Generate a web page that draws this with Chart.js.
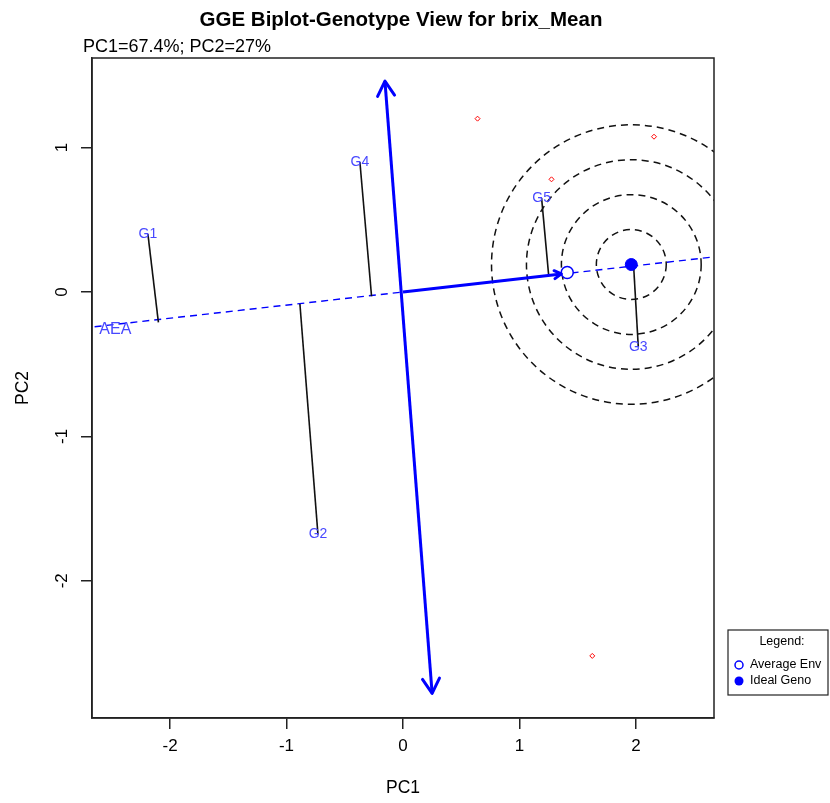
<!DOCTYPE html>
<html lang="en">
<head>
<meta charset="UTF-8">
<title>GGE Biplot-Genotype View for brix_Mean</title>
<script src="https://cdn.jsdelivr.net/npm/chart.js"></script>
<style>
  body { margin: 0; background: #fff; }
  #biplot { display: block; }
</style>
</head>
<body>
<canvas id="biplot" width="830" height="803"></canvas>

<script>
    // valores
    const xTicks = [-2, -1, 0, 1, 2];
    const yTicks = [-2, -1, 0, 1];

    // genotipos
    const genoNames = ['G1', 'G2', 'G3', 'G4', 'G5'];
    const genoX = [-2.19, -0.73, 2.02, -0.37, 1.19];
    const genoY = [0.40, -1.68, -0.38, 0.90, 0.65];
    // pe da perpendicular de cada genotipo sobre o eixo AEA
    const projX = [-2.10, -0.885, 1.98, -0.27, 1.25];
    const projY = [-0.21, -0.083, 0.18, -0.03, 0.12];

    // ambientes (pontos vermelhos)
    const envX = [0.64, 2.155, 1.275, 1.625];
    const envY = [1.20, 1.075, 0.78, -2.52];

    // eixo AEA (tracejado) e ordenada (seta dupla)
    const aeaLineX = [-2.75, 2.75];
    const aeaLineY = [-0.25, 0.25];
    const aeaArrowX = [0, 1.36];
    const aeaArrowY = [0, 0.125];
    const atcX = [-0.155, 0.25];
    const atcY = [1.46, -2.78];
    const aeaLabel = [-2.47, -0.263];

    const avgEnv = [1.41, 0.135];
    const idealGeno = [1.96, 0.19];
    const circleRadii = [0.3, 0.6, 0.9, 1.2];

    const FONT = "'Liberation Sans', Arial, sans-serif";
    const BLUE = '#0000ff';
    const LABEL_BLUE = '#4848ff';

    function pts(xs, ys) {
        return xs.map((x, i) => ({ x: x, y: ys[i] }));
    }

    function arrowHead(ctx, from, to, len, ang) {
        const a = Math.atan2(to.y - from.y, to.x - from.x);
        ctx.beginPath();
        ctx.moveTo(to.x - len * Math.cos(a - ang), to.y - len * Math.sin(a - ang));
        ctx.lineTo(to.x, to.y);
        ctx.lineTo(to.x - len * Math.cos(a + ang), to.y - len * Math.sin(a + ang));
        ctx.stroke();
    }

    function metaOf(chart, label) {
        const idx = chart.data.datasets.findIndex(d => d.label === label);
        return chart.getDatasetMeta(idx);
    }

    const datasets = [
        {
            label: 'Ideal Geno', data: pts([idealGeno[0]], [idealGeno[1]]),
            pointRadius: 6, pointStyle: 'circle', backgroundColor: BLUE, borderColor: BLUE, borderWidth: 1
        },
        {
            label: 'Average Env', data: pts([avgEnv[0]], [avgEnv[1]]),
            pointRadius: 6, pointStyle: 'circle', backgroundColor: '#fff', borderColor: BLUE, borderWidth: 1.5
        },
        {
            label: 'env', data: pts(envX, envY),
            pointRadius: 2.5, pointStyle: 'rectRot', backgroundColor: 'rgba(0,0,0,0)', borderColor: '#ff0000', borderWidth: 1
        },
        {
            label: 'geno', data: pts(genoX, genoY), pointRadius: 0
        },
        {
            label: 'aeaArrow', data: pts(aeaArrowX, aeaArrowY), showLine: true,
            borderColor: BLUE, borderWidth: 3, pointRadius: 0
        },
        {
            label: 'atc', data: pts(atcX, atcY), showLine: true,
            borderColor: BLUE, borderWidth: 3, pointRadius: 0
        }
    ];

    genoNames.forEach((n, i) => {
        datasets.push({
            label: 'proj ' + n,
            data: pts([genoX[i], projX[i]], [genoY[i], projY[i]]),
            showLine: true, borderColor: '#111', borderWidth: 1.6, pointRadius: 0
        });
    });

    datasets.push({
        label: 'aeaLine', data: pts(aeaLineX, aeaLineY), showLine: true,
        borderColor: BLUE, borderWidth: 1.4, borderDash: [7, 5], pointRadius: 0
    });

    const biplotExtras = {
        id: 'biplotExtras',
        beforeDatasetsDraw(chart) {
            // circulos concentricos em torno do genotipo ideal
            const { ctx, chartArea: ca, scales: { x, y } } = chart;
            const cx = x.getPixelForValue(idealGeno[0]);
            const cy = y.getPixelForValue(idealGeno[1]);
            ctx.save();
            ctx.beginPath();
            ctx.rect(ca.left, ca.top, ca.right - ca.left, ca.bottom - ca.top);
            ctx.clip();
            ctx.strokeStyle = '#111';
            ctx.lineWidth = 1.5;
            ctx.setLineDash([7, 5]);
            circleRadii.forEach(r => {
                const rp = x.getPixelForValue(idealGeno[0] + r) - cx;
                ctx.beginPath();
                ctx.arc(cx, cy, rp, 0, Math.PI * 2);
                ctx.stroke();
            });
            ctx.restore();
        },
        afterDatasetsDraw(chart) {
            const { ctx, scales: { x, y } } = chart;
            ctx.save();
            ctx.strokeStyle = BLUE;
            ctx.lineCap = 'round';
            ctx.lineJoin = 'round';

            const atc = metaOf(chart, 'atc').data;
            ctx.lineWidth = 3;
            arrowHead(ctx, atc[1], atc[0], 17, Math.PI / 6);
            arrowHead(ctx, atc[0], atc[1], 17, Math.PI / 6);

            const aea = metaOf(chart, 'aeaArrow').data;
            arrowHead(ctx, aea[0], aea[1], 8, Math.PI / 6);

            // rotulos dos genotipos
            const geno = metaOf(chart, 'geno').data;
            ctx.fillStyle = LABEL_BLUE;
            ctx.font = '14px ' + FONT;
            ctx.textAlign = 'center';
            ctx.textBaseline = 'middle';
            geno.forEach((p, i) => ctx.fillText(genoNames[i], p.x, p.y));

            ctx.font = '16px ' + FONT;
            ctx.fillText('AEA', x.getPixelForValue(aeaLabel[0]), y.getPixelForValue(aeaLabel[1]));
            ctx.restore();
        },
        afterDraw(chart) {
            const { ctx, chartArea: ca } = chart;
            ctx.save();
            ctx.strokeStyle = '#222';
            ctx.lineWidth = 1.5;
            ctx.strokeRect(ca.left, ca.top, ca.right - ca.left, ca.bottom - ca.top);

            ctx.fillStyle = '#000';
            ctx.textBaseline = 'alphabetic';
            ctx.textAlign = 'center';
            ctx.font = 'bold 20.5px ' + FONT;
            ctx.fillText('GGE Biplot-Genotype View for brix_Mean', 401, 26);

            ctx.textAlign = 'left';
            ctx.font = '18px ' + FONT;
            ctx.fillText('PC1=67.4%; PC2=27%', 83, 52);

            // legenda
            const lx = 728, ly = 630, lw = 100, lh = 65;
            ctx.lineWidth = 1.2;
            ctx.strokeRect(lx, ly, lw, lh);
            ctx.font = '12.5px ' + FONT;
            ctx.textAlign = 'center';
            ctx.textBaseline = 'middle';
            ctx.fillText('Legend:', lx + 54, ly + 12);
            ctx.textAlign = 'left';
            ctx.fillText('Average Env', lx + 22, ly + 35);
            ctx.fillText('Ideal Geno', lx + 22, ly + 51);
            ctx.strokeStyle = BLUE;
            ctx.lineWidth = 1.5;
            ctx.beginPath();
            ctx.arc(lx + 11, ly + 35, 4, 0, Math.PI * 2);
            ctx.stroke();
            ctx.fillStyle = BLUE;
            ctx.beginPath();
            ctx.arc(lx + 11, ly + 51, 4.5, 0, Math.PI * 2);
            ctx.fill();
            ctx.restore();
        }
    };

    const axisTickFont = { family: FONT, size: 17 };

    new Chart(document.getElementById('biplot'), {
        type: 'scatter',
        data: { datasets: datasets },
        options: {
            responsive: false,
            animation: false,
            layout: { padding: { top: 58, right: 116, bottom: 0, left: 0 } },
            plugins: { legend: { display: false }, tooltip: { enabled: false } },
            scales: {
                x: {
                    type: 'linear', min: -2.67, max: 2.67,
                    afterBuildTicks: s => { s.ticks = xTicks.map(v => ({ value: v })); },
                    afterFit: s => { s.height = 85; },
                    grid: { drawOnChartArea: false, tickLength: 11, color: '#222', lineWidth: 1.5 },
                    border: { color: '#222', width: 1.5 },
                    ticks: { color: '#000', font: axisTickFont, padding: 7, maxRotation: 0 },
                    title: { display: true, text: 'PC1', color: '#000', font: { family: FONT, size: 17.5 }, padding: { top: 0, bottom: 4 } }
                },
                y: {
                    type: 'linear', min: -2.95, max: 1.62,
                    afterBuildTicks: s => { s.ticks = yTicks.map(v => ({ value: v })); },
                    afterFit: s => { s.width = 92; },
                    grid: { drawOnChartArea: false, tickLength: 11, color: '#222', lineWidth: 1.5 },
                    border: { color: '#222', width: 1.5 },
                    ticks: { color: '#000', font: axisTickFont, padding: 11, minRotation: 90, maxRotation: 90, crossAlign: 'center' },
                    title: { display: true, text: 'PC2', color: '#000', font: { family: FONT, size: 17.5 }, padding: { top: 13, bottom: 0 } }
                }
            }
        },
        plugins: [biplotExtras]
    });
</script>
</body>
</html>
